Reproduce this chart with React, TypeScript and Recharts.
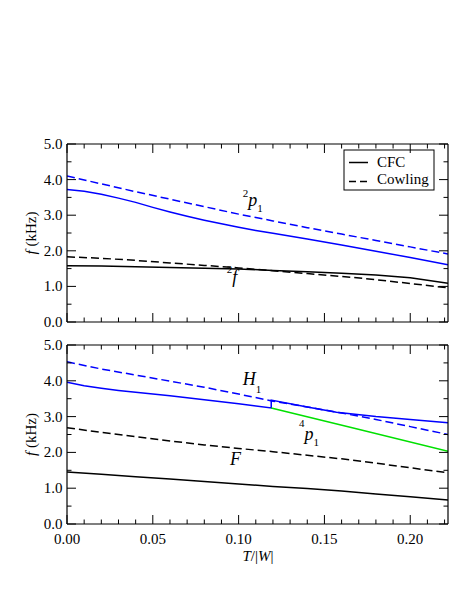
import React from 'react';
import { LineChart, Line, XAxis, YAxis, ReferenceDot, Customized } from 'recharts';

const FONT = '"Liberation Serif", "Times New Roman", serif';

// axis ticks
const X_TICKS = [0, 0.01, 0.02, 0.03, 0.04, 0.05, 0.06, 0.07, 0.08, 0.09, 0.1, 0.11, 0.12, 0.13, 0.14, 0.15, 0.16, 0.17, 0.18, 0.19, 0.2, 0.21, 0.22];
const X_MAJOR = [0, 0.05, 0.1, 0.15, 0.2];
const X_LABELS = ['0.00', '0.05', '0.10', '0.15', '0.20'];
const Y_TICKS = [0, 0.5, 1, 1.5, 2, 2.5, 3, 3.5, 4, 4.5, 5];
const Y_MAJOR = [0, 1, 2, 3, 4, 5];
const Y_LABELS = ['0.0', '1.0', '2.0', '3.0', '4.0', '5.0'];

// top panel: 2p1 and 2f modes
const tP1 = [0, 0.01, 0.02, 0.03, 0.04, 0.05, 0.06, 0.07, 0.08, 0.09, 0.1, 0.11, 0.12, 0.14, 0.16, 0.18, 0.2, 0.222];
const p1Cfc = [3.72, 3.67, 3.59, 3.48, 3.36, 3.22, 3.09, 2.97, 2.86, 2.76, 2.66, 2.57, 2.49, 2.33, 2.16, 1.99, 1.81, 1.61];
const tTop = [0, 0.02, 0.04, 0.06, 0.08, 0.1, 0.12, 0.14, 0.16, 0.18, 0.2, 0.222];
const p1Cowling = [4.10, 3.88, 3.66, 3.45, 3.24, 3.03, 2.84, 2.65, 2.47, 2.29, 2.11, 1.91];
const fCfc = [1.58, 1.57, 1.55, 1.53, 1.51, 1.49, 1.45, 1.41, 1.37, 1.32, 1.24, 1.09];
const fCowling = [1.83, 1.79, 1.73, 1.66, 1.59, 1.52, 1.44, 1.36, 1.28, 1.19, 1.08, 0.96];

// bottom panel: H1, 4p1 and F modes
const tH1Cfc = [0, 0.01, 0.02, 0.03, 0.04, 0.06, 0.08, 0.1, 0.119, 0.119, 0.14, 0.157, 0.18, 0.2, 0.222];
const h1Cfc = [3.96, 3.86, 3.79, 3.73, 3.68, 3.58, 3.47, 3.36, 3.24, 3.46, 3.27, 3.12, 3.00, 2.92, 2.83];
const tBot = [0, 0.02, 0.04, 0.06, 0.08, 0.1, 0.12, 0.14, 0.16, 0.18, 0.2, 0.222];
const h1Cowling = [4.53, 4.33, 4.16, 3.99, 3.82, 3.63, 3.43, 3.27, 3.10, 2.92, 2.72, 2.50];
const bigFCfc = [1.45, 1.39, 1.32, 1.26, 1.19, 1.12, 1.05, 0.99, 0.92, 0.84, 0.76, 0.67];
const bigFCowling = [2.69, 2.56, 2.44, 2.32, 2.21, 2.11, 2.02, 1.92, 1.82, 1.70, 1.57, 1.43];
const tP4 = [0.119, 0.165, 0.222];
const p4Cfc = [3.24, 2.70, 2.03];

const rows = (ts: number[], fs: number[]) => ts.map((t, i) => ({ t, f: fs[i] }));

const BLUE = '#0000ff';
const GREEN = '#00e000';
const DASH = '8 4';

const near = (list: number[], v: number) => list.findIndex((m) => Math.abs(m - v) < 1e-9);

const XTick = (side: 'top' | 'bottom', labels: boolean) => (props: any) => {
  const { x, y, payload } = props;
  const idx = near(X_MAJOR, payload.value);
  const len = idx >= 0 ? 9 : 4.5;
  const dir = side === 'bottom' ? -1 : 1;
  return (
    <g>
      <line x1={x} y1={y} x2={x} y2={y + dir * len} stroke="#000" strokeWidth={1} />
      {labels && idx >= 0 && (
        <text x={x} y={y + 19.5} textAnchor="middle" fontSize={15} fontFamily={FONT} fill="#000">
          {X_LABELS[idx]}
        </text>
      )}
    </g>
  );
};

const YTick = (side: 'left' | 'right') => (props: any) => {
  const { x, y, payload } = props;
  const idx = near(Y_MAJOR, payload.value);
  const len = idx >= 0 ? 9 : 4.5;
  const dir = side === 'left' ? 1 : -1;
  return (
    <g>
      <line x1={x} y1={y} x2={x + dir * len} y2={y} stroke="#000" strokeWidth={1} />
      {side === 'left' && idx >= 0 && (
        <text x={x - 4.5} y={y + 5} textAnchor="end" fontSize={15} fontFamily={FONT} fill="#000">
          {Y_LABELS[idx]}
        </text>
      )}
    </g>
  );
};

// mode label like ^2 p_1, drawn at the ReferenceDot position
const ModeLabel = (pre: string, main: string, sub: string, preDy: number, subDy: number) => (props: any) => {
  const { x, y } = props.viewBox;
  return (
    <text x={x} y={y} fontFamily={FONT} fill="#000">
      {pre && <tspan fontSize={11} dy={preDy}>{pre}</tspan>}
      <tspan fontSize={18} fontStyle="italic" dy={pre ? -preDy : 0}>{main}</tspan>
      {sub && <tspan fontSize={11} dy={subDy}>{sub}</tspan>}
    </text>
  );
};

const YTitle = ({ cy }: { cy: number }) => (
  <text x={35.5} y={cy} transform={`rotate(-90, 35.5, ${cy})`} textAnchor="middle" fontSize={15} fontFamily={FONT} fill="#000">
    <tspan fontStyle="italic">f</tspan> (kHz)
  </text>
);

const LegendBox = () => (
  <g>
    <rect x={344} y={150} width={90} height={40} fill="#fff" stroke="#000" strokeWidth={1} />
    <line x1={349} x2={368} y1={162.5} y2={162.5} stroke="#000" strokeWidth={1.5} />
    <text x={377} y={166.5} fontSize={15} fontFamily={FONT} fill="#000">CFC</text>
    <line x1={349} x2={368} y1={181.5} y2={181.5} stroke="#000" strokeWidth={1.5} strokeDasharray="7 4" />
    <text x={377} y={183.5} fontSize={15} fontFamily={FONT} fill="#000">Cowling</text>
  </g>
);

const BottomTitles = () => (
  <g>
    <YTitle cy={104.5} />
    <text x={258} y={231} textAnchor="middle" fontSize={15} fontFamily={FONT} fill="#000">
      <tspan fontStyle="italic">T</tspan>/|<tspan fontStyle="italic">W</tspan>|
    </text>
  </g>
);

const axes = (xLabels: boolean) => [
  <XAxis key="xb" dataKey="t" type="number" domain={[0, 0.222]} allowDataOverflow ticks={X_TICKS} interval={0}
    height={30} tickSize={0} tickMargin={0} tickLine={false} axisLine={{ stroke: '#000', strokeWidth: 1.2 }} tick={XTick('bottom', xLabels)} />,
  <XAxis key="xt" xAxisId="top" orientation="top" dataKey="t" type="number" domain={[0, 0.222]} allowDataOverflow ticks={X_TICKS} interval={0}
    height={4} tickSize={0} tickMargin={0} tickLine={false} axisLine={{ stroke: '#000', strokeWidth: 1.2 }} tick={XTick('top', false)} />,
  <YAxis key="yl" type="number" domain={[0, 5]} allowDataOverflow ticks={Y_TICKS} interval={0}
    width={60} tickSize={0} tickMargin={0} tickLine={false} axisLine={{ stroke: '#000', strokeWidth: 1.2 }} tick={YTick('left')} />,
  <YAxis key="yr" yAxisId="right" orientation="right" type="number" domain={[0, 5]} allowDataOverflow ticks={Y_TICKS} interval={0}
    width={5} tickSize={0} tickMargin={0} tickLine={false} axisLine={{ stroke: '#000', strokeWidth: 1.2 }} tick={YTick('right')} />,
];

export default function App() {
  return (
    <div style={{ position: 'absolute', left: 0, top: 0, width: 458, height: 592, background: '#fff' }}>
      <div style={{ position: 'absolute', left: 0, top: 0 }}>
        <LineChart width={458} height={352} margin={{ top: 140, right: 5, bottom: 0, left: 7 }}>
          {axes(false)}
          <Line data={rows(tTop, fCowling)} dataKey="f" stroke="#000" strokeWidth={1.5} strokeDasharray={DASH} dot={false} isAnimationActive={false} />
          <Line data={rows(tTop, fCfc)} dataKey="f" stroke="#000" strokeWidth={1.5} dot={false} isAnimationActive={false} />
          <Line data={rows(tTop, p1Cowling)} dataKey="f" stroke={BLUE} strokeWidth={1.5} strokeDasharray={DASH} dot={false} isAnimationActive={false} />
          <Line data={rows(tP1, p1Cfc)} dataKey="f" stroke={BLUE} strokeWidth={1.5} dot={false} isAnimationActive={false} />
          <ReferenceDot x={0.1024} y={3.26} r={0} stroke="none" fill="none" label={ModeLabel('2', 'p', '1', -9, 6)} />
          <ReferenceDot x={0.0931} y={1.1} r={0} stroke="none" fill="none" label={ModeLabel('2', 'f', '', -9.5, 0)} />
          <Customized component={LegendBox} />
          <Customized component={() => <YTitle cy={233} />} />
        </LineChart>
      </div>
      <div style={{ position: 'absolute', left: 0, top: 330 }}>
        <LineChart width={458} height={262} margin={{ top: 11, right: 5, bottom: 38, left: 7 }}>
          {axes(true)}
          <Line data={rows(tBot, bigFCowling)} dataKey="f" stroke="#000" strokeWidth={1.5} strokeDasharray={DASH} dot={false} isAnimationActive={false} />
          <Line data={rows(tBot, bigFCfc)} dataKey="f" stroke="#000" strokeWidth={1.5} dot={false} isAnimationActive={false} />
          <Line data={rows(tBot, h1Cowling)} dataKey="f" stroke={BLUE} strokeWidth={1.5} strokeDasharray={DASH} dot={false} isAnimationActive={false} />
          <Line data={rows(tH1Cfc, h1Cfc)} dataKey="f" stroke={BLUE} strokeWidth={1.5} dot={false} isAnimationActive={false} />
          <Line data={rows(tP4, p4Cfc)} dataKey="f" stroke={GREEN} strokeWidth={1.5} dot={false} isAnimationActive={false} />
          <ReferenceDot x={0.1024} y={3.88} r={0} stroke="none" fill="none" label={ModeLabel('', 'H', '1', 0, 7.5)} />
          <ReferenceDot x={0.1352} y={2.35} r={0} stroke="none" fill="none" label={ModeLabel('4', 'p', '1', -12.5, 6.5)} />
          <ReferenceDot x={0.095} y={1.65} r={0} stroke="none" fill="none" label={ModeLabel('', 'F', '', 0, 0)} />
          <Customized component={BottomTitles} />
        </LineChart>
      </div>
    </div>
  );
}
